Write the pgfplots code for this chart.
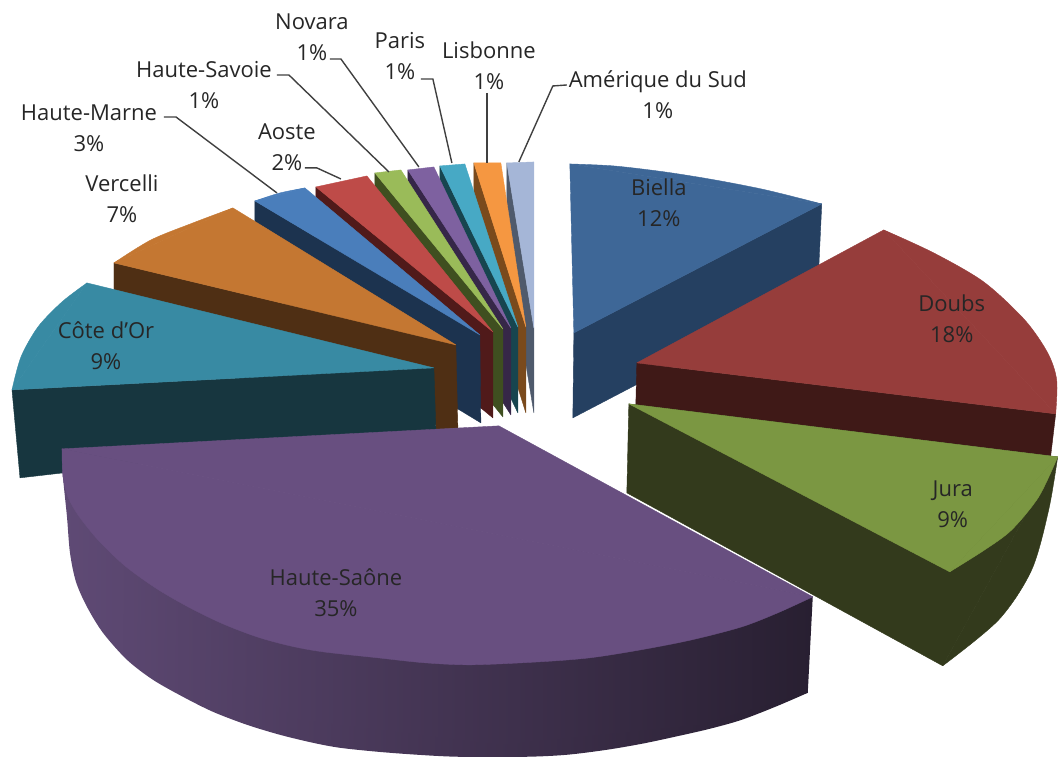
\documentclass[border=0pt]{standalone}
\usepackage{fontspec}
\setmainfont{Open Sans}
\usepackage{pgfplots}
\pgfplotsset{compat=1.18}

\definecolor{bielT}{HTML}{3E6797}\definecolor{bielS}{HTML}{254061}
\definecolor{doubT}{HTML}{963D3B}\definecolor{doubS}{HTML}{3F1917}
\definecolor{juraT}{HTML}{7B9742}\definecolor{juraS}{HTML}{333A1C}
\definecolor{hsaoT}{HTML}{684F80}\definecolor{hsaoL}{HTML}{5F4A75}\definecolor{hsaoM}{HTML}{40304F}\definecolor{hsaoR}{HTML}{281F31}
\definecolor{coteT}{HTML}{388AA3}\definecolor{coteS}{HTML}{17363F}
\definecolor{verT}{HTML}{C47732}\definecolor{verS}{HTML}{4F2F14}
\definecolor{hmarT}{HTML}{4A7EBB}\definecolor{hmarS}{HTML}{1C334F}
\definecolor{aosT}{HTML}{BE4B48}\definecolor{aosS}{HTML}{501A1A}
\definecolor{hsavT}{HTML}{9ABB59}\definecolor{hsavS}{HTML}{3F4F20}
\definecolor{novT}{HTML}{7E61A0}\definecolor{novS}{HTML}{362748}
\definecolor{parT}{HTML}{47A9C5}\definecolor{parS}{HTML}{17454F}
\definecolor{lisT}{HTML}{F59741}\definecolor{lisS}{HTML}{7A4A1C}
\definecolor{ameT}{HTML}{A5B6D7}\definecolor{ameS}{HTML}{4F5A6C}
\definecolor{leader}{HTML}{404040}

\tikzset{
    face/.style={fill=#1, draw=#1, line width=0.2pt, line join=round, mark=none},
    arc/.style={face=#1, smooth},
    lead/.style={draw=leader, line width=0.7pt, mark=none},
    lab/.style={align=center, font=\fontsize{11}{15.5}\selectfont, text=black!85, inner sep=0pt},
    hside/.style={draw=none, left color=hsaoL, middle color=hsaoM, right color=hsaoR, mark=none},
}

\begin{document}
\begin{tikzpicture}
\begin{axis}[
    scale only axis, width=529pt, height=379pt,
    xmin=0, xmax=1058, ymin=0, ymax=758, y dir=reverse,
    axis lines=none, clip=false,
]
\path (rel axis cs:0,0) rectangle (rel axis cs:1,1);
% Biella
\addplot[face=bielS] coordinates {(574,333)(822,204)(818,290)(573,418)} --cycle;
\addplot[arc=bielT] coordinates {(570,164)(614,166)(665,172)(715,180)(766,190)(822,204)} --cycle;
\addplot[face=bielT] coordinates {(570,164)(822,204)(574,333)} --cycle;
% Doubs
\addplot[face=doubS] coordinates {(637,363)(1056,414)(1051,456)(636,405)} --cycle;
\addplot[arc=doubT] coordinates {(884,230)(934,253)(984,282)(1025,320)(1048,353)(1057,380)(1056,414)} --cycle;
\addplot[face=doubT] coordinates {(637,363)(884,230)(1056,414)} --cycle;
% Jura
\addplot[arc=juraS] coordinates {(1058,457)(1049,510)(1032,570)(999,620)(943,666)} --cycle;
\addplot[face=juraS] coordinates {(629,404)(1058,457)(943,666)(627,493)} --cycle;
\addplot[arc=juraT] coordinates {(1058,457)(1039,497)(1012,530)(985,550)(950,572)} --cycle;
\addplot[face=juraT] coordinates {(629,404)(1058,457)(950,572)} --cycle;
% petites parts
\addplot[face=ameS] coordinates {(507,163)(507,248)(534,413)(534,328)} --cycle;
\addplot[face=ameT] coordinates {(507,163)(534,162)(534,328)} --cycle;
\addplot[face=lisS] coordinates {(474,163)(474,248)(526,413)(526,327)} --cycle;
\addplot[face=lisT] coordinates {(474,163)(501,163)(526,327)} --cycle;
\addplot[face=parS] coordinates {(440,166)(440,251)(518,413)(518,327)} --cycle;
\addplot[face=parT] coordinates {(440,166)(465,164)(518,327)} --cycle;
\addplot[face=novS] coordinates {(408,170)(408,255)(511,415)(511,328)} --cycle;
\addplot[face=novT] coordinates {(408,170)(434,167)(511,328)} --cycle;
\addplot[face=hsavS] coordinates {(375,173)(375,258)(503,417)(503,329)} --cycle;
\addplot[face=hsavT] coordinates {(375,173)(401,170)(503,329)} --cycle;
\addplot[face=aosS] coordinates {(316,187)(316,272)(493,418)(493,332)} --cycle;
\addplot[face=aosT] coordinates {(316,187)(367,176)(493,332)} --cycle;
\addplot[face=hmarS] coordinates {(255,201)(255,286)(481,423)(480,335)} --cycle;
\addplot[arc=hmarT] coordinates {(255,201)(280,193)(305,188)} --cycle;
\addplot[face=hmarT] coordinates {(255,201)(305,188)(480,335)} --cycle;
% Vercelli
\addplot[face=verS] coordinates {(114,263)(114,348)(436,425)(436,430)(458,428)(456,345)} --cycle;
\addplot[arc=verT] coordinates {(114,263)(151,240)(193,223)(233,208)} --cycle;
\addplot[face=verT] coordinates {(114,263)(233,208)(456,345)} --cycle;
% Cote d'Or
\addplot[face=coteS] coordinates {(12,390)(434,368)(436,430)(20,478)} --cycle;
\addplot[arc=coteT] coordinates {(87,283)(62,302)(38,327)(21,357)(12,390)} --cycle;
\addplot[face=coteT] coordinates {(87,283)(434,368)(12,390)} --cycle;
% Haute-Saone
\addplot[hside, smooth] coordinates {
  (62,449)(63,477)(67,517)(70,553)(76,582)(87,607)(103,633)(127,660)(153,680)(183,697)(213,712)(247,725)(280,735)(313,743)(340,748)
  (378,752)(418,755)(459,757)(526,757)(567,755)(607,750)(642,744)(675,737)(710,729)(742,720)(778,706)(808,693)} --cycle;
\addplot[hside] coordinates {(62,449)(100,600)(300,720)(500,745)(700,725)(808,693)(813,597)} --cycle;
\addplot[arc=hsaoT] coordinates {
  (62,449)(63,477)(68,497)(78,515)(98,540)(125,566)(157,589)(190,608)(223,624)(257,637)(290,646)(323,652)(378,658)
  (425,663)(472,665)(540,662)(590,658)(641,650)(692,640)(742,627)(778,613)(813,597)} --cycle;
\addplot[face=hsaoT] coordinates {(62,449)(499,426)(813,597)} --cycle;
% traits de rappel
\addplot[lead] coordinates {(164,117)(176,117)(277,193)};
\addplot[lead] coordinates {(277,75)(289,75)(389,172)};
\addplot[lead] coordinates {(330,59)(341,59)(419,167)};
\addplot[lead] coordinates {(421,79)(433,79)(452,163)};
\addplot[lead] coordinates {(487,93)(487,163)};
\addplot[lead] coordinates {(567,85)(553,86)(519,162)};
\addplot[lead] coordinates {(305,168)(317,168)(341,179)};
% etiquettes
\node[lab] at (axis cs:312,37) {Novara\\1\%};
\node[lab] at (axis cs:400,56) {Paris\\1\%};
\node[lab] at (axis cs:489,66) {Lisbonne\\1\%};
\node[lab] at (axis cs:658,95) {Amérique du Sud\\1\%};
\node[lab] at (axis cs:204,85) {Haute-Savoie\\1\%};
\node[lab] at (axis cs:89,128) {Haute-Marne\\3\%};
\node[lab] at (axis cs:287,147) {Aoste\\2\%};
\node[lab] at (axis cs:122,199) {Vercelli\\7\%};
\node[lab] at (axis cs:106,346) {Côte d'Or\\9\%};
\node[lab] at (axis cs:659,203) {Biella\\12\%};
\node[lab] at (axis cs:952,319) {Doubs\\18\%};
\node[lab] at (axis cs:953,504) {Jura\\9\%};
\node[lab] at (axis cs:336,593) {Haute-Saône\\35\%};
\end{axis}
\end{tikzpicture}
\end{document}
